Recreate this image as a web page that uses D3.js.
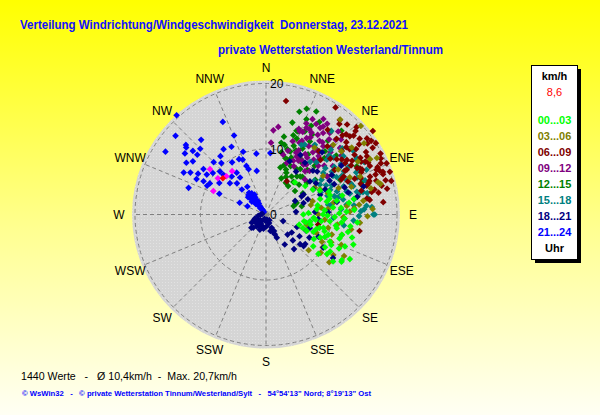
<!DOCTYPE html>
<html>
<head>
<meta charset="utf-8">
<script src="https://cdn.jsdelivr.net/npm/d3@7"></script>
<style>
  body { margin: 0; overflow: hidden; }
  svg { display: block; font-family: "Liberation Sans", Arial, sans-serif; }
</style>
</head>
<body>
<div id="chart"></div>
<script>
// values: [direction in degrees, speed in km/h]
const pts00_03 = [[90,5.7],[99,6.8],[112,6.7],[110,7.7],[124,8.7],[90,8.7],[96,9.8],[84,10.3],[101,11.0],[105,12.0],[105,13.6],[109,14.1],[122,13.6],[120,11.3],[123,11.1],[113,9.0],[84,7.8],[78,9.5],[79,11.0],[88,12.3],[103,9.0],[54,7.4],[113,10.6],[102,12.8],[121,13.5],[107,5.3],[100,5.9],[96,11.6],[92,10.5],[86,9.0],[94,7.3],[106,8.0],[117,8.2],[82,12.8],[98,13.0],[115,12.3],[108,10.0],[74,8.6],[70,10.2],[89,11.2],[118,14.5],[42,6.6],[127,10.0],[103,7.0],[95,14.0],[80,13.6],[76,12.0],[62,8.1],[73,10.2],[66,9.0],[88,6.5],[96,7.6],[104,8.4],[111,9.6],[115,11.0],[99,10.8],[93,12.0],[85,11.5],[101,6.2],[108,11.8],[112,13.0],[119,10.3],[91,9.4],[97,8.5],[106,9.3],[80,8.0],[76,10.0],[87,13.5],[110,6.0],[125,12.5]];
const pts03_06 = [[127,12.1],[125,10.2],[38,18.4],[75,18.1],[95,14.4],[110,8.2],[74,7.4],[92,11.8],[87,16.3],[84,14.3],[112,12.4],[121,12.0],[102,9.7],[104,6.4],[61,8.5],[47,19.8],[63,19.0],[36,12.6],[74,17.8],[62,18.0],[52,16.6],[65,9.1],[85,9.5],[84,12.4],[70,11.8],[98,11.0],[107,10.5],[90,8.0],[80,10.5],[116,9.5],[58,13.0],[68,15.5],[44,14.8],[78,7.0],[100,13.2],[118,13.5],[88,12.8],[56,10.5],[72,13.7],[95,9.0],[130,8.5],[82,15.0],[76,16.5],[79,14.2],[86,13.5],[91,15.5],[93,12.0],[66,14.0],[60,16.2],[71,10.0],[83,8.5],[105,12.0],[113,10.8],[120,10.0],[50,15.0],[54,18.5]];
const pts06_09 = [[38,18.3],[39,17.8],[47,18.7],[52,20.7],[53,19.3],[51,18.4],[57,20.0],[47,17.5],[48,16.5],[54,17.0],[58,18.0],[62,19.8],[67,20.0],[71,20.0],[69,18.6],[71,18.9],[65,17.5],[73,17.6],[64,16.0],[56,14.9],[50,15.1],[52,13.7],[61,13.8],[32,6.0],[10,17.6],[33,19.5],[82,16.0],[75,19.8],[70,19.0],[68,18.2],[63,15.6],[68,14.6],[74,16.0],[66,15.9],[54,14.3],[52,16.2],[61,14.1],[65,12.7],[42,14.0],[70,16.9],[81,15.6],[100,14.5],[101,8.1],[79,17.5],[44,16.8],[46,19.2],[59,16.8],[60,17.8],[55,18.9],[43,15.8],[49,13.0],[57,12.5],[62,17.2],[66,19.2],[76,18.2],[78,16.5],[72,15.2],[64,13.2],[36,16.0],[40,12.6],[58,15.5],[68,13.5],[45,11.8],[84,18.0],[73,16.4],[76,15.0],[77,17.0],[50,16.0],[53,17.8],[56,16.3],[58,19.2],[60,15.0],[63,17.5],[65,16.2],[67,18.5],[70,17.8],[72,16.6],[74,19.0],[57,14.4],[61,16.6],[55,19.6],[48,18.0],[45,17.3],[69,15.5],[78,18.9],[64,19.5],[42,18.5]];
const pts09_12 = [[5,12.9],[4,11.0],[22,13.7],[25,14.6],[32,15.6],[34,16.7],[41,16.8],[20,11.9],[29,15.8],[29,14.3],[35,15.2],[38,15.8],[25,12.1],[32,12.3],[37,11.9],[30,10.3],[30,8.5],[42,8.9],[47,10.9],[47,13.0],[43,15.6],[16,9.5],[26,10.5],[37,9.5],[41,11.1],[40,13.6],[45,9.4],[54,12.6],[22,8.5],[28,13.2],[33,11.0],[36,13.9],[24,15.2],[31,17.0],[44,14.4],[39,12.5],[27,9.2],[50,11.6],[34,9.9],[19,10.3],[45,16.2],[52,14.6],[58,11.0],[48,8.0],[26,16.2],[8,13.5],[27,14.6],[27,11.0],[30,13.6],[33,14.5],[36,10.7],[38,14.0],[40,15.0],[42,12.0],[28,10.0],[31,9.6],[24,13.8],[35,12.8],[44,11.5],[46,13.7],[39,9.8],[33,16.0],[21,14.0],[48,15.2],[26,12.5]];
const pts12_15 = [[18,16.5],[21,17.3],[21,13.6],[22,11.3],[21,9.0],[24,7.5],[32,5.7],[73,4.4],[77,5.6],[51,5.7],[38,16.0],[13,12.2],[20,13.6],[19,9.1],[39,7.5],[35,9.6],[43,13.2],[40,14.7],[42,17.2],[62,15.7],[71,15.6],[73,15.3],[12,11.2],[21,10.3],[26,7.1],[38,5.5],[69,5.0],[42,7.8],[52,7.9],[38,12.6],[70,4.9],[28,12.0],[16,14.6],[30,14.1],[25,10.8],[33,8.4],[45,10.5],[48,6.8],[55,9.2],[30,16.3],[14,9.8],[35,11.2],[46,12.4],[27,15.2],[60,6.5],[23,6.0],[31,13.0],[50,14.0],[58,11.0],[17,7.5],[65,12.5],[43,9.3],[26,17.5],[18,10.5],[22,12.5],[24,9.5],[27,8.3],[29,11.5],[32,10.0],[20,8.0],[25,14.0],[34,7.0],[37,8.7],[40,6.5],[19,12.8],[28,6.5],[44,8.0],[15,11.0],[23,15.8]];
const pts15_18 = [[90,16.6],[85,15.4],[81,15.8],[77,15.2],[54,16.5],[27,11.9],[29,12.2],[38,16.2],[49,15.4],[58,16.3],[48,12.5],[54,10.8],[60,11.8],[67,13.4],[65,15.2],[72,14.0],[76,13.2],[77,14.7],[76,11.6],[69,10.5],[61,9.4],[44,11.1],[53,14.8],[59,16.2],[66,16.8],[76,14.3],[90,16.4],[86,16.2],[94,13.4],[83,12.4],[77,11.1],[93,10.3],[70,12.6],[63,13.0],[57,12.0],[50,13.5],[45,14.0],[68,15.0],[80,13.7],[88,14.5],[73,9.8],[64,10.2],[55,9.0],[82,10.0],[98,12.0],[62,17.0],[35,13.0],[40,10.5],[86,11.5],[71,16.0],[79,12.0],[52,11.5],[56,13.8],[60,14.5],[62,12.2],[66,11.0],[70,13.8],[74,12.8],[78,15.8],[84,13.5],[87,15.0],[91,14.2],[47,13.2],[58,10.0],[68,9.0],[81,9.6],[72,11.4],[64,15.8],[55,12.7],[61,13.6],[75,10.8]];
const pts18_21 = [[240,2.5],[224,2.8],[218,2.3],[202,2.5],[177,1.8],[157,2.2],[158,2.9],[156,3.3],[250,1.8],[235,1.5],[225,1.2],[210,1.6],[195,1.9],[185,1.0],[170,0.8],[245,2.0],[230,2.0],[215,1.4],[160,1.4],[150,1.0],[260,1.2],[270,0.8],[280,0.6],[200,0.7],[190,2.2],[165,2.6],[228,3.0],[212,2.0],[111,2.8],[85,4.6],[112,5.1],[133,4.5],[125,4.8],[134,5.7],[148,5.4],[123,6.1],[130,7.5],[141,6.8],[127,7.5],[131,6.9],[118,7.5],[112,6.6],[99,6.8],[87,7.5],[73,6.0],[62,6.5],[70,8.8],[120,10.1],[123,12.2],[155,3.9],[154,2.8],[67,9.8],[71,12.7],[79,14.2],[24,8.9],[37,9.9],[47,9.8],[53,8.4],[59,11.7],[62,11.0],[57,13.7],[74,15.5],[113,8.7],[107,7.0],[65,4.9],[63,6.1],[70,6.8],[62,8.2],[30,10.5],[42,12.8],[50,10.2],[66,11.4],[80,11.0],[88,9.5],[35,8.0],[58,9.0],[75,13.0],[95,8.0]];
const pts21_24 = [[318,20.4],[335,15.6],[311,18.3],[319,15.1],[338,13.0],[302,18.1],[311,16.2],[310,15.9],[311,14.8],[315,14.2],[307,15.5],[311,13.9],[327,11.9],[333,11.6],[340,10.2],[351,9.4],[4,9.4],[303,14.5],[306,13.8],[315,11.3],[322,11.3],[319,10.4],[327,9.5],[334,9.4],[337,9.1],[338,8.0],[348,6.8],[339,7.4],[297,14.1],[299,13.2],[301,12.1],[306,11.8],[304,10.9],[308,10.3],[313,9.6],[313,8.9],[318,7.8],[325,7.8],[325,6.9],[297,11.9],[298,10.8],[299,9.8],[289,12.5],[296,10.0],[304,8.6],[311,7.3],[317,6.5],[316,5.3],[326,5.1],[294,7.8],[294,4.4],[294,3.1],[322,4.2],[318,4.0],[326,3.9],[320,3.6],[324,3.4],[316,3.3],[328,3.1],[321,3.0],[318,2.7],[325,2.6],[322,2.3],[316,2.2],[327,2.0],[320,1.8],[324,1.5],[318,1.3],[322,1.0],[326,0.8],[320,0.5],[314,3.8],[330,3.5],[312,2.9],[329,2.4]];
const ptsMarked = [[309,11.0],[307,9.2],[314,8.4],[322,8.4],[294,8.8]];
const current = [[310,8.6]];

const hourLabels = ["00...03","03...06","06...09","09...12","12...15","15...18","18...21","21...24"];
const hourColors = ["#00ff00","#808000","#800000","#800080","#008000","#008080","#000080","#0000ff"];
const hourSeries = [pts00_03,pts03_06,pts06_09,pts09_12,pts12_15,pts15_18,pts18_21,pts21_24];
const drawOrder = [7,4,3,5,2,1,6,0];

const compass = ["N","NNE","NE","ENE","E","ESE","SE","SSE","S","SSW","SW","WSW","W","WNW","NW","NNW"];
const ringTicks = [0,10,20];

const title = "Verteilung Windrichtung/Windgeschwindigkeit  Donnerstag, 23.12.2021";
const subtitle = "private Wetterstation Westerland/Tinnum";
const stats = "1440 Werte   -   \u00d8 10,4km/h  -  Max. 20,7km/h";
const credit = "\u00a9 WsWin32   -   \u00a9 private Wetterstation Tinnum/Westerland/Sylt   -   54\u00b054'13\" Nord; 8\u00b019'13\" Ost";
const currentLabel = "8,6";

const width = 600, height = 415;
const cx = 266, cy = 214.5;

const svg = d3.select("#chart").append("svg")
    .attr("width", width)
    .attr("height", height);

const defs = svg.append("defs");
const grad = defs.append("linearGradient").attr("id", "bg").attr("x1", 0).attr("y1", 0).attr("x2", 0).attr("y2", 1);
grad.append("stop").attr("offset", "0%").attr("stop-color", "#ffff00");
grad.append("stop").attr("offset", "55%").attr("stop-color", "#ffff90");
grad.append("stop").attr("offset", "100%").attr("stop-color", "#fffff4");

const pat = defs.append("pattern").attr("id", "dots")
    .attr("width", 3).attr("height", 3).attr("patternUnits", "userSpaceOnUse");
pat.append("rect").attr("width", 3).attr("height", 3).attr("fill", "#d5d5d5");
pat.append("rect").attr("width", 1).attr("height", 1).attr("fill", "#e2e2e2");

svg.append("rect").attr("width", width).attr("height", height).attr("fill", "url(#bg)");

// speed scale: 0..20 km/h from centre to outer ring
const r = d3.scaleLinear().domain([0, 20]).range([0, 131]);
const ang = d3.scaleLinear().domain([0, 360]).range([0, 2 * Math.PI]);
const px = d => cx + r(d[1]) * Math.sin(ang(d[0]));
const py = d => cy - r(d[1]) * Math.cos(ang(d[0]));

const plot = svg.append("g");
plot.append("circle").attr("cx", cx).attr("cy", cy).attr("r", 134).attr("fill", "url(#dots)");

// rings
plot.selectAll(".ring")
    .data(ringTicks.filter(d => d > 0))
    .enter().append("circle")
    .attr("cx", cx).attr("cy", cy)
    .attr("r", d => r(d))
    .attr("fill", "none")
    .attr("stroke", "#808080")
    .attr("stroke-dasharray", "4,3");

// spokes
plot.selectAll(".spoke")
    .data(compass)
    .enter().append("line")
    .attr("x1", cx).attr("y1", cy)
    .attr("x2", (d, i) => px([i * 22.5, 20]))
    .attr("y2", (d, i) => py([i * 22.5, 20]))
    .attr("stroke", "#808080")
    .attr("stroke-dasharray", "4,3");

// compass labels
svg.selectAll(".dirlab")
    .data(compass)
    .enter().append("text")
    .attr("x", (d, i) => cx + 147 * Math.sin(ang(i * 22.5)))
    .attr("y", (d, i) => cy - 147 * Math.cos(ang(i * 22.5)) + 4)
    .attr("text-anchor", "middle")
    .attr("font-size", 12)
    .attr("fill", "#000")
    .text(d => d);

// ring labels
svg.selectAll(".ringlab")
    .data(ringTicks)
    .enter().append("text")
    .attr("x", cx + 4)
    .attr("y", d => cy - r(d) + 4.5)
    .attr("font-size", 12)
    .attr("fill", "#000")
    .text(d => d);

// scatter of 10-minute values
const diamond = d3.symbol().type(d3.symbolSquare).size(22);
function drawPts(data, color) {
    plot.append("g").selectAll("path")
        .data(data)
        .enter().append("path")
        .attr("d", diamond)
        .attr("transform", d => `translate(${px(d)},${py(d)}) rotate(45)`)
        .attr("fill", color);
}
drawOrder.forEach(i => drawPts(hourSeries[i], hourColors[i]));
drawPts(ptsMarked, "#ff00ff");
drawPts(current, "#ff0000");

// titles
svg.append("text")
    .attr("x", 20).attr("y", 29)
    .attr("font-size", 13).attr("font-weight", "bold")
    .attr("fill", "#1010ff")
    .attr("textLength", 388).attr("lengthAdjust", "spacingAndGlyphs")
    .style("white-space", "pre")
    .text(title);
svg.append("text")
    .attr("x", 218).attr("y", 54)
    .attr("font-size", 13).attr("font-weight", "bold")
    .attr("fill", "#1010ff")
    .attr("textLength", 225).attr("lengthAdjust", "spacingAndGlyphs")
    .text(subtitle);

// legend box
const lg = svg.append("g");
lg.append("rect").attr("x", 535).attr("y", 69).attr("width", 46).attr("height", 194).attr("fill", "#000");
lg.append("rect").attr("x", 531.5).attr("y", 65.5).attr("width", 46).attr("height", 194)
    .attr("fill", "#fff").attr("stroke", "#000");
lg.append("text").attr("x", 554.5).attr("y", 80).attr("text-anchor", "middle")
    .attr("font-size", 11).attr("font-weight", "bold").text("km/h");
lg.append("text").attr("x", 554.5).attr("y", 96).attr("text-anchor", "middle")
    .attr("font-size", 11).attr("fill", "#ff0000").text(currentLabel);
lg.selectAll(".hl")
    .data(hourLabels)
    .enter().append("text")
    .attr("x", 554.5)
    .attr("y", (d, i) => 123.5 + i * 16)
    .attr("text-anchor", "middle")
    .attr("font-size", 11).attr("font-weight", "bold")
    .attr("fill", (d, i) => hourColors[i])
    .text(d => d);
lg.append("text").attr("x", 554.5).attr("y", 251.5).attr("text-anchor", "middle")
    .attr("font-size", 11).attr("font-weight", "bold").text("Uhr");

// footer
svg.append("text")
    .attr("x", 21).attr("y", 380)
    .attr("font-size", 11).attr("fill", "#000")
    .style("white-space", "pre")
    .attr("textLength", 216).attr("lengthAdjust", "spacingAndGlyphs")
    .text(stats);
svg.append("text")
    .attr("x", 22).attr("y", 396)
    .attr("font-size", 8).attr("font-weight", "bold").attr("fill", "#0000ff")
    .style("white-space", "pre")
    .attr("textLength", 349).attr("lengthAdjust", "spacingAndGlyphs")
    .text(credit);
</script>
</body>
</html>
